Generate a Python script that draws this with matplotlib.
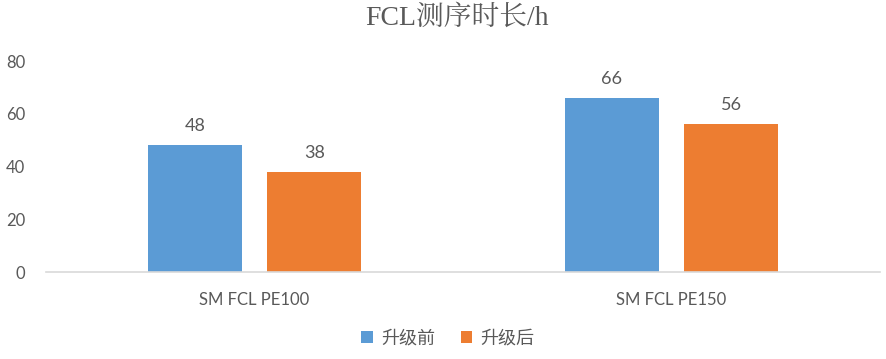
import numpy as np
import matplotlib.pyplot as plt

plt.rcParams['font.family'] = ['Lato', 'Noto Sans CJK SC']

categories = ["SM FCL PE100", "SM FCL PE150"]
before = [48, 66]
after = [38, 56]
series_names = ["升级前", "升级后"]
colors = ["#5B9BD5", "#ED7D31"]
text_color = "#595959"

fig = plt.figure(figsize=(8.87, 3.59), dpi=100)
ax = fig.add_axes([0.052, 0.242, 0.94, 0.588])

x = np.arange(len(categories))
w = 0.225
off = 0.143
b1 = ax.bar(x - off, before, w, color=colors[0], label=series_names[0])
b2 = ax.bar(x + off, after, w, color=colors[1], label=series_names[1])

for bars in (b1, b2):
    for rect in bars:
        h = rect.get_height()
        ax.annotate(f"{h:g}", (rect.get_x() + rect.get_width() / 2, h),
                    xytext=(0, 8), textcoords="offset points",
                    ha="center", va="bottom", fontsize=13, color=text_color)

ax.set_xlim(-0.5, 1.5)
ax.set_ylim(0, 80)
ax.set_yticks([0, 20, 40, 60, 80])
ax.set_xticks(x)
ax.set_xticklabels(categories)
ax.tick_params(axis="both", length=0, labelsize=12, colors=text_color)
ax.tick_params(axis="x", pad=14)
ax.tick_params(axis="y", pad=15)
for s in ["top", "right", "left"]:
    ax.spines[s].set_visible(False)
ax.spines["bottom"].set_color("#D9D9D9")
ax.spines["bottom"].set_linewidth(1.2)

fig.suptitle("FCL测序时长/h", x=0.515, y=0.985, fontsize=20, color=text_color,
             family=['Liberation Serif', 'Noto Serif CJK SC', 'Noto Sans CJK SC'])

fig.legend(loc="lower center", bbox_to_anchor=(0.505, -0.01), ncol=2, frameon=False,
           fontsize=13, labelcolor=text_color, handlelength=0.65, handleheight=0.65,
           handletextpad=0.45, columnspacing=1.4)

fig.savefig("out.png", dpi=100)
